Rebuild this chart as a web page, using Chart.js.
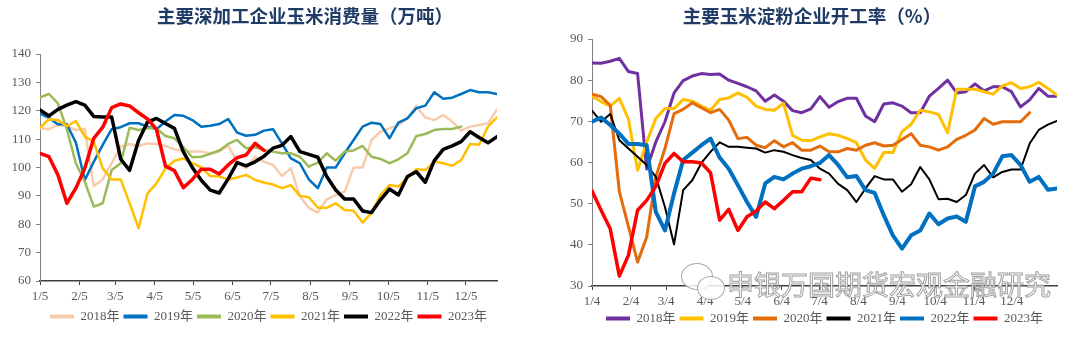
<!DOCTYPE html>
<html>
<head>
<meta charset="utf-8">
<script src="https://cdn.jsdelivr.net/npm/chart.js@4"></script>
<style>
  html, body { margin: 0; padding: 0; background: #fff; }
  body { width: 1080px; height: 337px; position: relative; overflow: hidden; }
  .panel { position: absolute; top: 0; width: 540px; height: 337px; }
  .title { position: absolute; top: 4px; font: bold 18.5px "Noto Sans CJK SC", sans-serif; color: #1f3b66;
           white-space: nowrap; transform: translateX(-50%); line-height: 22px; }
  .mark { position: absolute; left: 727px; top: 268px; font: 27px "Noto Sans CJK SC", sans-serif; white-space: nowrap;
          color: rgba(255,255,255,0.85); -webkit-text-stroke: 1px rgba(150,150,150,0.9); line-height: 32px; z-index: 5; }
  .bubble { position: absolute; border: 1.5px solid rgba(160,160,160,0.9); border-radius: 50%; background: rgba(255,255,255,0.85); z-index: 5; }
</style>
</head>
<body>
<div class="panel" style="left:0"><canvas id="left" width="540" height="337"></canvas></div>
<div class="panel" style="left:540px"><canvas id="right" width="540" height="337"></canvas></div>
<div class="title" style="left:305px">主要深加工企业玉米消费量（万吨）</div>
<div class="title" style="left:812px">主要玉米淀粉企业开工率（%）</div>
<div class="bubble" style="left:681px;top:263px;width:30px;height:25px"></div>
<div class="bubble" style="left:697px;top:276px;width:26px;height:22px"></div>
<div class="mark">申银万国期货宏观金融研究</div>
<script>
// weekly points, x = week index
const weekIndex = Array.from({length: 52}, (_, i) => i)

// left chart: 主要深加工企业玉米消费量
const leftTickPos = [0, 4.41, 8.40, 12.81, 17.08, 21.49, 25.76, 30.18, 34.59, 38.86, 43.27, 47.54]
const leftTickLabels = ['1/5', '2/5', '3/5', '4/5', '5/5', '6/5', '7/5', '8/5', '9/5', '10/5', '11/5', '12/5']
const use2018 = [113.8, 113.5, 115, 114.6, 113.2, 113.5, 93.5, 95.8, 101.5, 107.3, 108.3, 107.6, 108.5, 108.3, 107.6, 106.4, 105.8, 105.6, 105.6, 105, 105.6, 107.7, 102, 99.7, 103.8, 102, 101, 97, 99.7, 89.8, 85.8, 84.1, 88.8, 90.3, 91.5, 100, 100, 109.7, 112.6, 113.8, 115, 117.3, 121.7, 117.6, 116.7, 118.5, 116.2, 113, 114.4, 114.9, 115.6, 120.5]
const use2019 = [119, 117.5, 115.2, 115.2, 108.8, 95.6, 102, 108, 113.5, 114.2, 115.6, 115.6, 114.4, 113.5, 116.2, 118.5, 118.2, 116.7, 114.4, 114.7, 115.3, 117.1, 112.3, 111.2, 111.5, 113, 113.5, 108.5, 103.2, 101.5, 95.8, 92.7, 100, 100, 105, 109.7, 114.4, 115.8, 115.3, 110.3, 115.8, 117.3, 120.9, 121.8, 126.5, 124.2, 124.6, 125.9, 127.3, 126.5, 126.5, 125.9]
const use2020 = [124.7, 125.9, 122.6, 113.5, 101.5, 95, 86.2, 87.4, 99.1, 101.5, 114, 113.2, 113.8, 113.8, 111.1, 110.3, 107.1, 103.6, 103.8, 104.8, 106, 108.3, 109.7, 106.8, 107.1, 106.2, 105.6, 105, 105, 103.8, 100.3, 101.7, 105, 102.4, 105.6, 106, 107.6, 103.8, 103, 101.5, 102.9, 105, 111.1, 111.8, 113.2, 113.6, 113.6, 114.4]
const use2021 = [114, 117, 116.7, 114.6, 116.4, 110.9, 109.1, 99.7, 95.8, 95.8, 87.4, 78.6, 90.9, 94.4, 99.7, 102.4, 103.2, 101.5, 100, 97, 96.8, 95.8, 96.5, 97.4, 95.6, 94.7, 94, 92.7, 93.8, 90, 89.5, 85.8, 85.8, 87.4, 85, 84.8, 80.6, 84.1, 90.3, 93.8, 93.3, 96.2, 99.4, 99.1, 102.1, 101.5, 100.6, 102.6, 108.3, 108, 114.4, 117.7]
const use2022 = [120.3, 118.2, 120.5, 122, 123.2, 122, 118, 117.8, 117.8, 103, 99, 109.5, 116, 117.3, 115.5, 113.8, 105.5, 100, 95.5, 92, 91, 96, 101.7, 100.6, 102, 104, 106.8, 107.8, 110.9, 105.6, 104.6, 103.6, 96.8, 92.1, 88.9, 88.9, 84.7, 84.1, 88.6, 92.4, 90.3, 96.8, 98.5, 94.8, 102.4, 106.4, 107.6, 109.1, 112.6, 110.6, 108.7, 110.9]
const use2023 = [105, 103.8, 97.4, 87.4, 92.7, 99.7, 110.3, 114.2, 121.1, 122.4, 121.7, 119.3, 117.1, 113.4, 100.5, 98.9, 92.9, 95.8, 99.4, 99.4, 97.7, 100.9, 103.5, 104.4, 108.5, 106]

// right chart: 主要玉米淀粉企业开工率
const rightTickPos = [0, 4.27, 8.13, 12.41, 16.54, 20.81, 24.95, 29.22, 33.49, 37.63, 41.90, 46.04]
const rightTickLabels = ['1/4', '2/4', '3/4', '4/4', '5/4', '6/4', '7/4', '8/4', '9/4', '10/4', '11/4', '12/4']
const rate2018 = [84.2, 84.1, 84.6, 85.3, 82.1, 81.6, 58.4, 65, 69.9, 76.9, 79.9, 81, 81.6, 81.4, 81.5, 80, 79.2, 78.4, 77.4, 74.9, 76.4, 74.9, 72.6, 72.1, 73, 76, 73.4, 74.8, 75.6, 75.6, 71.3, 69.9, 74.2, 74.5, 73.7, 72.1, 72.1, 76.1, 78, 80, 76.9, 77.2, 79.1, 77.4, 78.4, 78.4, 77.2, 73.5, 75.2, 78, 76.1, 76.1]
const rate2019 = [76.1, 74.8, 73.7, 75.6, 70.5, 58.1, 65, 70.7, 73.1, 73.1, 75.3, 74.9, 73.7, 72.7, 75.3, 75.7, 76.9, 75.8, 73.7, 72.9, 72.7, 74.4, 66.6, 65.4, 65.3, 66.2, 67, 66.6, 65.8, 64.8, 60.6, 58.6, 62.4, 62.4, 67.5, 69.3, 72.7, 72.3, 71.7, 67.2, 77.8, 77.8, 77.8, 77.2, 76.6, 78.6, 79.4, 78, 78.4, 79.5, 78, 76.4]
const rate2020 = [76.6, 76, 73.9, 52.9, 44.4, 35.8, 41.9, 56.5, 63.4, 71.9, 72.9, 74.5, 73.3, 72.1, 72.9, 70.3, 65.8, 66.1, 64.2, 63.6, 65.3, 63.8, 64.8, 63, 63, 64, 62.6, 62.6, 63.4, 63, 64.2, 64.8, 64, 64.2, 65.6, 67, 64.2, 63.8, 63, 63.8, 65.6, 66.6, 67.9, 70.7, 69.3, 69.9, 69.9, 69.9, 72.1]
const rate2021 = [72.6, 69.9, 71.8, 65.4, 63.4, 61.4, 59.4, 56.5, 49.2, 40.1, 53.3, 55.7, 59.9, 62.6, 64.9, 63.8, 63.8, 63.6, 63.4, 62.4, 63, 62.6, 61.8, 61.1, 60.6, 58.5, 57.3, 54.8, 53.3, 50.4, 53.7, 56.7, 55.9, 55.9, 52.9, 54.7, 58.9, 55.9, 51.1, 51.2, 50.4, 52.1, 57.3, 59.4, 56.4, 57.7, 58.3, 58.3, 64.6, 67.9, 69.2, 70.1]
const rate2022 = [69.9, 70.9, 69.1, 67, 64.5, 64.5, 64.2, 48, 43.5, 52.5, 60.6, 62.4, 64.2, 65.8, 61.2, 58.5, 54.5, 50.4, 46.8, 54.9, 56.5, 55.9, 57.3, 58.5, 59.1, 59.9, 61.8, 59.4, 56.4, 56.7, 53.3, 52.6, 47.2, 42.3, 39.1, 42.3, 43.5, 47.6, 45, 46.4, 46.9, 45.6, 54.2, 55.3, 57.3, 61.5, 61.8, 59.4, 55.3, 56.5, 53.4, 53.7]
const rate2023 = [53.1, 48.4, 43.9, 32.4, 37.5, 48.4, 50.8, 54.2, 59.8, 62.2, 60.2, 60.2, 59.9, 57.5, 46, 48.6, 43.5, 46.8, 48.2, 50.4, 48.8, 50.8, 52.9, 52.9, 56.2, 55.8]

const tickFont = {family: "'Liberation Serif', 'Noto Sans CJK SC', serif", size: 13}
const legendFont = {family: "'Liberation Serif', 'Noto Sans CJK SC', serif", size: 13}
const textColor = '#595959'

function line(label, data, color, width, order){
    return {label, data, borderColor: color, backgroundColor: color, borderWidth: width,
        pointRadius: 0, tension: 0, borderJoinStyle: 'round', borderCapStyle: 'round', order}
}

function makeChart(id, datasets, o){
    return new Chart(document.getElementById(id), {
        type: 'line',
        data: {labels: weekIndex, datasets},
        options: {
            responsive: false,
            animation: false,
            devicePixelRatio: 1,
            layout: {padding: o.padding},
            plugins: {
                tooltip: {enabled: false},
                title: {display: false},
                legend: {
                    display: true,
                    position: 'bottom',
                    fullSize: false,
                    labels: {
                        usePointStyle: true,
                        pointStyle: 'line',
                        pointStyleWidth: 24,
                        padding: 4,
                        font: legendFont,
                        color: textColor,
                        generateLabels: (chart) => Chart.defaults.plugins.legend.labels.generateLabels(chart)
                            .map(item => Object.assign(item, {lineWidth: 4}))
                            .sort((a, b) => a.datasetIndex - b.datasetIndex)
                    }
                }
            },
            scales: {
                x: {
                    type: 'linear',
                    min: 0,
                    max: 51,
                    afterFit: (scale) => { scale.height = o.xHeight },
                    afterBuildTicks: (scale) => { scale.ticks = o.tickPos.map(v => ({value: v})) },
                    grid: {drawOnChartArea: false, drawTicks: true, tickLength: 4, color: '#404040'},
                    border: {display: true, color: '#404040', width: 1.5},
                    ticks: {
                        autoSkip: false, maxRotation: 0, padding: 4, font: tickFont, color: textColor,
                        callback: (value, index) => o.tickLabels[index]
                    }
                },
                y: {
                    min: o.yMin,
                    max: o.yMax,
                    afterFit: (scale) => { scale.width = o.yWidth },
                    grid: {drawOnChartArea: false, drawTicks: true, tickLength: 4, color: '#808080'},
                    border: {display: true, color: '#808080', width: 1},
                    ticks: {stepSize: 10, padding: 5, font: tickFont, color: textColor}
                }
            }
        }
    })
}

makeChart('left', [
    line('2018年', use2018, '#F8CBAD', 2.5, 5),
    line('2019年', use2019, '#0070C0', 2.5, 4),
    line('2020年', use2020, '#9BBB59', 2.5, 3),
    line('2021年', use2021, '#FFC000', 2.5, 2),
    line('2022年', use2022, '#000000', 3.5, 1),
    line('2023年', use2023, '#FF0000', 3.5, 0)
], {padding: {left: 0, top: 54, right: 43, bottom: 4}, xHeight: 25, yWidth: 40, yMin: 60, yMax: 140,
    tickPos: leftTickPos, tickLabels: leftTickLabels})

makeChart('right', [
    line('2018年', rate2018, '#7030A0', 3, 5),
    line('2019年', rate2019, '#FFC000', 3, 4),
    line('2020年', rate2020, '#E46C0A', 3, 3),
    line('2021年', rate2021, '#000000', 2, 2),
    line('2022年', rate2022, '#0070C0', 4, 1),
    line('2023年', rate2023, '#FF0000', 3.5, 0)
], {padding: {left: 0, top: 39, right: 23, bottom: 2}, xHeight: 22, yWidth: 52, yMin: 30, yMax: 90,
    tickPos: rightTickPos, tickLabels: rightTickLabels})
</script>
</body>
</html>
